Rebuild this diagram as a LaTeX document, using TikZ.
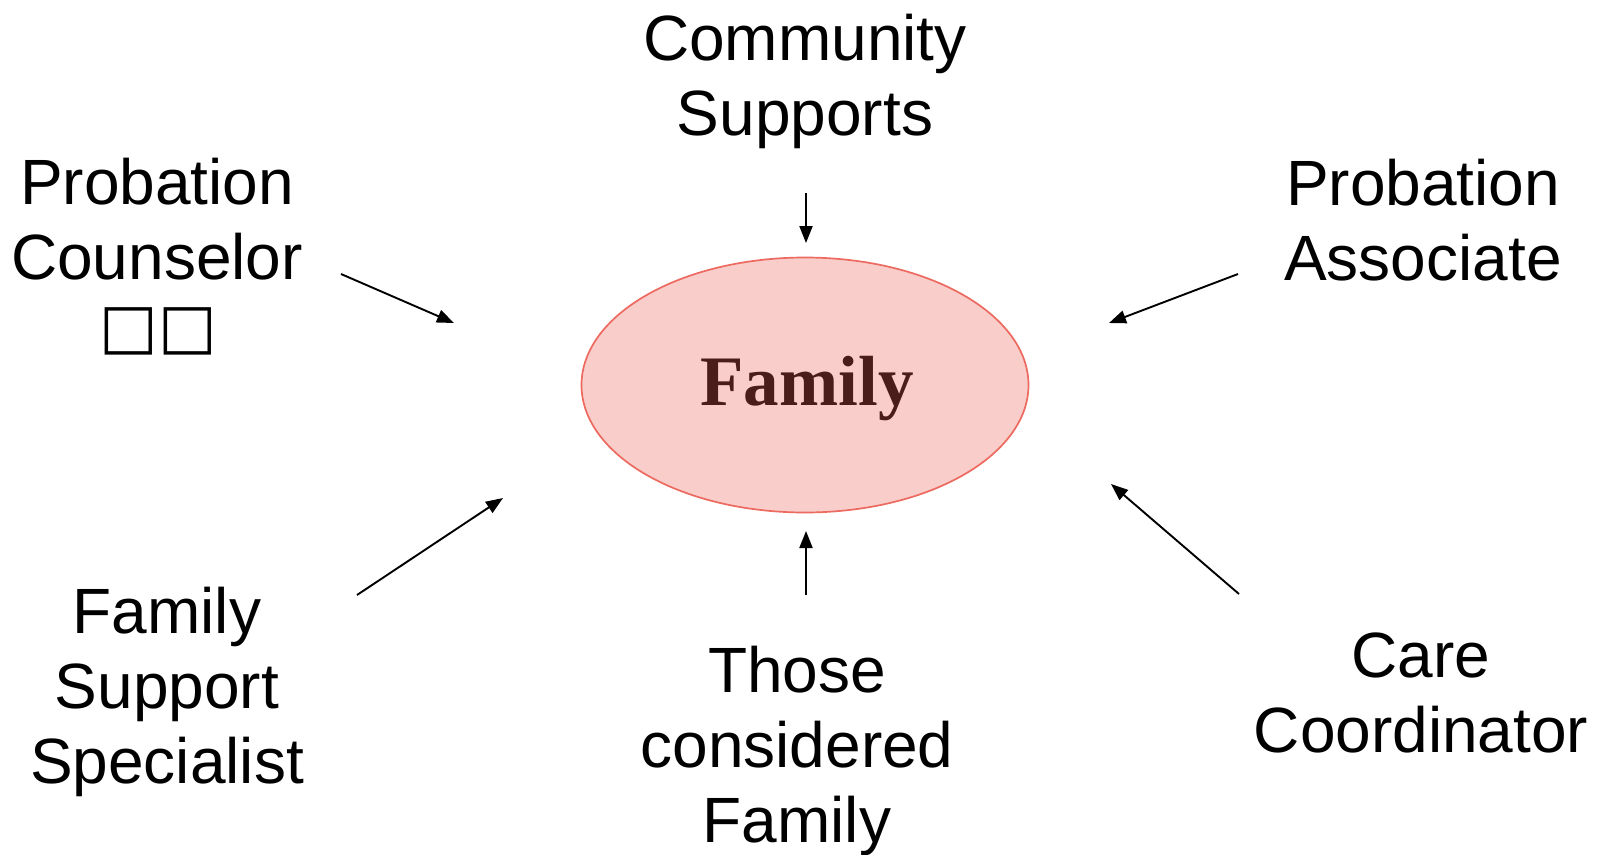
\documentclass[tikz,border=0pt]{standalone}
\usepackage{fontspec}
\setmainfont{Liberation Sans}
\newfontfamily\famfont{Liberation Serif}
\newfontfamily\symfont{DejaVu Sans}
\usetikzlibrary{arrows.meta,shapes.geometric}
\definecolor{ellfill}{HTML}{F9CDCA}
\definecolor{elldraw}{HTML}{EC6A60}
\definecolor{famtext}{HTML}{4A1C1A}
\begin{document}
\begin{tikzpicture}[x=1pt,y=-1pt,
  lbl/.style={align=center,inner sep=0pt,font=\fontsize{64}{75}\selectfont},
  conn/.style={line width=1.9pt,-{Triangle[length=17pt,width=13pt]}}]
\useasboundingbox (0,0) rectangle (1598,854);
\node[ellipse,fill=ellfill,draw=elldraw,line width=1.7pt,minimum width=447pt,minimum height=255pt] (fam) at (805,385) {};
\node[text=famtext,font=\famfont\bfseries\fontsize{71}{80}\selectfont,anchor=base] (famlbl) at (807,405) {Family};
\node[lbl,anchor=base] (cs) at (805,135) {Community\\Supports};
\node[lbl,anchor=base] (pc) at (157,279) {Probation\\Counselor};
\node[font=\symfont\fontsize{62}{64}\selectfont,inner sep=0pt,anchor=base] (pcbox) at (158,347) {□□};
\node[lbl,anchor=base] (pa) at (1423,280) {Probation\\Associate};
\node[lbl,anchor=base] (fss) at (167,783) {Family\\Support\\Specialist};
\node[lbl,anchor=base] (tcf) at (797,842) {Those\\considered\\Family};
\node[lbl,anchor=base] (cc) at (1421,752) {Care\\Coordinator};
\coordinate (a1s) at (806,193); \coordinate (a1e) at (806,243);
\coordinate (a2s) at (341,274); \coordinate (a2e) at (454,323);
\coordinate (a3s) at (1238,274); \coordinate (a3e) at (1109,323);
\coordinate (a4s) at (357,595); \coordinate (a4e) at (503,498);
\coordinate (a5s) at (806,595); \coordinate (a5e) at (806,531);
\coordinate (a6s) at (1239,594); \coordinate (a6e) at (1111,484);
\draw[conn] (a1s) -- (a1e);
\draw[conn] (a2s) -- (a2e);
\draw[conn] (a3s) -- (a3e);
\draw[conn] (a4s) -- (a4e);
\draw[conn] (a5s) -- (a5e);
\draw[conn] (a6s) -- (a6e);
\end{tikzpicture}
\end{document}
